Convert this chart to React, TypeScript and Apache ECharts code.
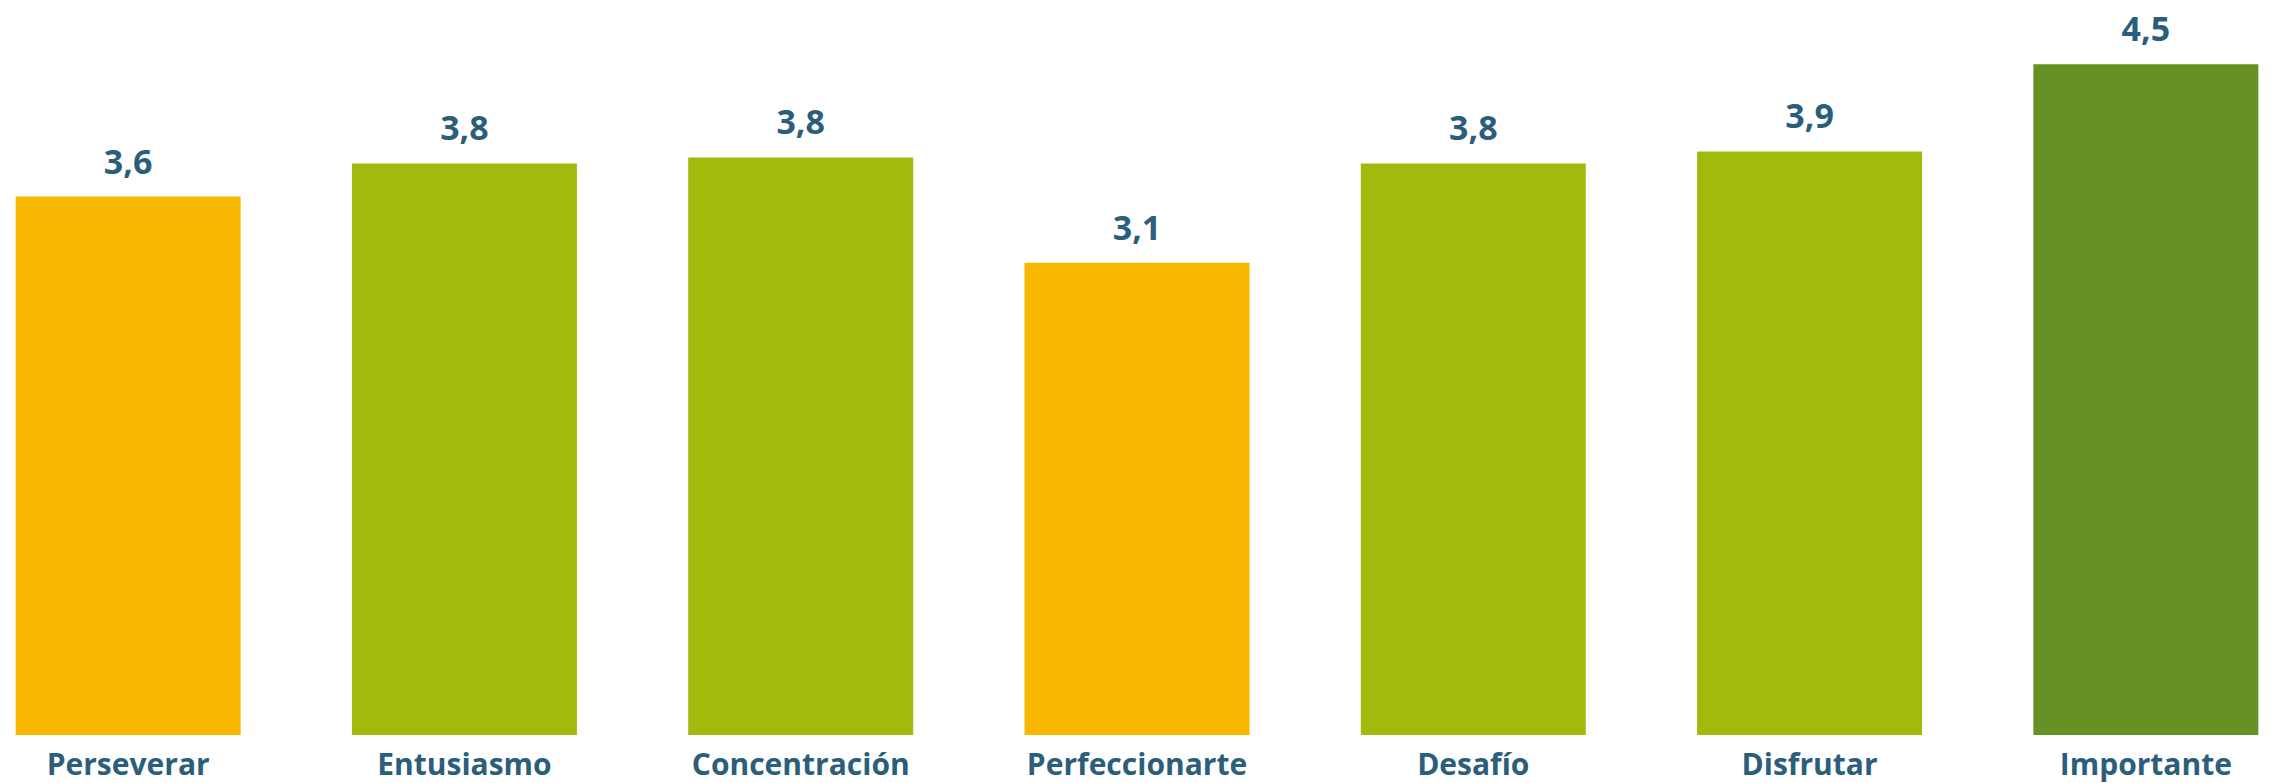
import React, { useEffect, useRef } from "react";
import * as echarts from "echarts";

const categories = ["Perseverar", "Entusiasmo", "Concentración", "Perfeccionarte", "Desafío", "Disfrutar", "Importante"];
const values = [3.58, 3.8, 3.84, 3.14, 3.8, 3.88, 4.46];
const barColors = ["#F9B800", "#A2BA0C", "#A2BA0C", "#F9B800", "#A2BA0C", "#A2BA0C", "#659024"];

const TEXT = "#2B5E7B";

export default function App() {
  const ref = useRef<HTMLDivElement>(null);
  useEffect(() => {
    document.body.style.margin = "0";
    document.body.style.overflow = "hidden";
    const chart = echarts.init(ref.current!, undefined, { renderer: "svg" });
    chart.setOption({
      animation: false,
      backgroundColor: "#FFFFFF",
      grid: { left: 0, right: 0, top: 4, bottom: 48, containLabel: false },
      xAxis: {
        type: "category",
        data: categories,
        axisLine: { show: false },
        axisTick: { show: false },
        axisLabel: {
          interval: 0,
          margin: 13,
          color: TEXT,
          fontFamily: "Open Sans",
          fontWeight: "bold",
          fontSize: 30,
        },
      },
      yAxis: {
        type: "value",
        min: 0,
        max: 4.86,
        show: false,
        splitLine: { show: false },
      },
      series: [
        {
          type: "bar",
          barWidth: 225,
          data: values.map((v, i) => ({ value: v, itemStyle: { color: barColors[i] } })),
          label: {
            show: true,
            position: "top",
            distance: 19,
            color: TEXT,
            fontFamily: "Open Sans",
            fontWeight: "bold",
            fontSize: 34,
            formatter: (p: any) => p.value.toFixed(1).replace(".", ","),
          },
        },
      ],
    });
    return () => chart.dispose();
  }, []);
  return (
    <div
      ref={ref}
      style={{ width: 2354, height: 783, position: "absolute", left: -39.6, top: 0 }}
    />
  );
}
